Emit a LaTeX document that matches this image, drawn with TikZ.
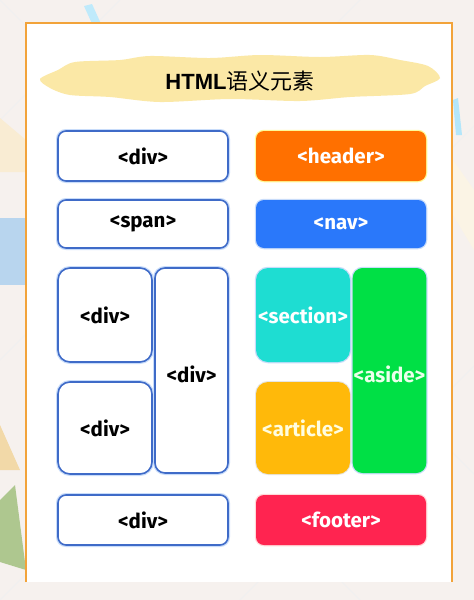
\documentclass[tikz,border=0pt]{standalone}
\usepackage{fontspec}
\setmainfont{Fira Sans}
\newfontfamily\titlefont{Liberation Sans}
\newfontfamily\cjkfont{Noto Sans CJK SC}
\definecolor{pagebg}{HTML}{F6F1EE}
\definecolor{frameorange}{HTML}{F2A33A}
\definecolor{brushyellow}{HTML}{FBE8A6}
\definecolor{divblue}{HTML}{3F6BC8}
\definecolor{glowblue}{HTML}{C8DCFA}
\definecolor{headerorange}{HTML}{FF7000}
\definecolor{navblue}{HTML}{2A78FA}
\definecolor{sectioncyan}{HTML}{1EDDD2}
\definecolor{asidegreen}{HTML}{00E045}
\definecolor{articleamber}{HTML}{FFB90A}
\definecolor{footerred}{HTML}{FF2450}
\definecolor{decoblue}{HTML}{B8D5EE}
\definecolor{decobeige}{HTML}{F2D9A8}
\definecolor{decogreen}{HTML}{AEC78F}
\begin{document}
\begin{tikzpicture}[x=1pt,y=-1pt]

    \tikzstyle{label}=[font=\bfseries\fontsize{20.5}{24}\selectfont, inner sep=1pt]
    \tikzstyle{divbox}=[label, rectangle, rounded corners=8pt, fill=white, draw=divblue, line width=1.6pt,
                        preaction={draw=glowblue, line width=4pt}, text=black]
    \tikzstyle{tagbox}=[label, rectangle, rounded corners=8pt, text=white]

    % background and frame
    \useasboundingbox (0,0) rectangle (474,600);
    \clip (0,0) rectangle (474,600);
    \fill[pagebg] (0,0) rectangle (474,600);
    \draw[black!6, line width=0.8pt] (0,120) -- (120,0)
                                     (0,360) -- (474,-114)
                                     (0,600) -- (474,126)
                                     (0,0)   -- (474,474)
                                     (0,240) -- (360,600)
                                     (240,600) -- (474,366);
    \fill[cyan!25] (84,6) -- (92,4) -- (102,26) -- (94,28) -- cycle;
    \fill[decobeige!50] (0,118) -- (26,140) -- (26,172) -- (0,172) -- cycle;
    \fill[decoblue] (0,218) rectangle (26,285);
    \fill[decobeige] (0,425) -- (20,470) -- (0,470) -- cycle;
    \fill[decogreen] (0,500) -- (15,485) -- (26,570) -- (0,562) -- cycle;
    \fill[cyan!30] (453,100) -- (458,98) -- (462,135) -- (456,135) -- cycle;
    \fill[decobeige!30] (453,160) -- (474,190) -- (474,250) -- (453,215) -- cycle;
    \fill[white] (26,23) rectangle (452,582);
    \draw[frameorange, line width=2.5pt] (26,582) -- (26,23) -- (452,23) -- (452,582);

    % title
    \fill[brushyellow] plot[smooth cycle, tension=0.5] coordinates
        {(40,79) (58,70) (75,62) (120,60) (150,56) (210,58) (260,55) (320,57) (370,55)
         (400,60) (428,66) (440,78) (425,86) (410,94) (350,97) (300,101) (230,99)
         (160,102) (110,97) (70,95) (50,88)};
    \node (title) at (240,81) {\fontsize{22}{26}\selectfont{\titlefont\bfseries HTML}{\cjkfont 语义元素}};

    % generic layout
    \node[divbox, minimum width=170pt, minimum height=50pt] (topdiv)   at (143,156)   {<div>};
    \node[divbox, minimum width=170pt, minimum height=48pt] (spanbox)  at (143,224)   {<span>};
    \node[divbox, minimum width=94pt,  minimum height=94pt,
          rounded corners=12pt] (upperdiv) at (105,315)   {<div>};
    \node[divbox, minimum width=94pt,  minimum height=92pt,
          rounded corners=12pt] (lowerdiv) at (105,428)   {<div>};
    \node[divbox, minimum width=73pt,  minimum height=205pt, text height=25pt,
          rounded corners=10pt] (talldiv)  at (191.5,370.5) {<div>};
    \node[divbox, minimum width=170pt, minimum height=50pt] (bottomdiv) at (143,520)  {<div>};

    % semantic layout
    \node[tagbox, fill=headerorange, minimum width=170pt, minimum height=50pt,
          preaction={draw=yellow!40, line width=2.5pt}] (header) at (341,156) {<header>};
    \node[tagbox, fill=navblue, minimum width=170pt, minimum height=48pt,
          preaction={draw=glowblue, line width=2.5pt}] (nav) at (341,224) {<nav>};
    \node[tagbox, fill=sectioncyan, minimum width=94pt, minimum height=94pt, rounded corners=12pt,
          preaction={draw=glowblue, line width=2.5pt}] (section) at (303,315) {<section>};
    \node[tagbox, fill=articleamber, minimum width=94pt, minimum height=92pt, rounded corners=12pt,
          text=yellow!12, preaction={draw=black!10, line width=2pt}] (article) at (303,428) {<article>};
    \node[tagbox, fill=asidegreen, minimum width=73pt, minimum height=205pt, rounded corners=10pt,
          text height=25pt, text=green!8, preaction={draw=glowblue, line width=2.5pt}] (aside) at (389.5,370.5) {<aside>};
    \node[tagbox, fill=footerred, minimum width=170pt, minimum height=50pt,
          preaction={draw=red!15, line width=2.5pt}] (footer) at (341,520) {<footer>};
\end{tikzpicture}
\end{document}
